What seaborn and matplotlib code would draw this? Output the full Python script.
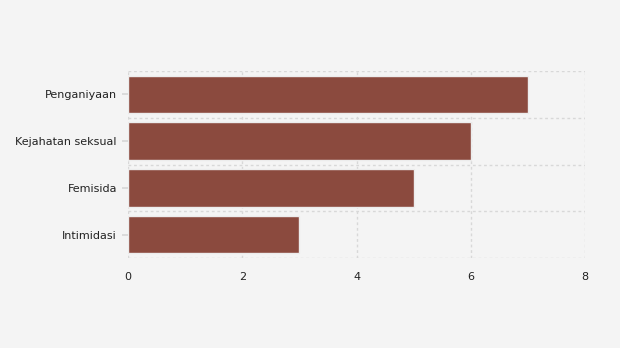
import matplotlib
matplotlib.use("Agg")
import matplotlib.pyplot as plt
import seaborn as sns
import pandas as pd
import numpy as np
from matplotlib.ticker import FixedLocator

categories = ["Penganiyaan", "Kejahatan seksual", "Femisida", "Intimidasi"]
values = [7, 6, 5, 3]
xticks = [0, 2, 4, 6, 8]

df = pd.DataFrame({"kategori": categories, "nilai": values})

sns.set_theme(style="white")
plt.rcParams['font.family'] = ['DejaVu Sans']

fig = plt.figure(figsize=(6.2, 3.48), dpi=100, facecolor="#f4f4f4")
ax = fig.add_axes([128/620, 1-258/348, (585-128)/620, (258-71)/348])
ax.set_facecolor("#f4f4f4")

sns.barplot(data=df, x="nilai", y="kategori", orient="h", color="#8b4a3e",
            saturation=1, width=0.8, edgecolor="#ececec", linewidth=1, ax=ax, zorder=2)

ax.set_xlim(0, 8)
ax.set_ylim(len(categories)-0.5, -0.5)
ax.set_xticks(xticks)
ax.set_xticklabels([str(t) for t in xticks])
ax.yaxis.set_minor_locator(FixedLocator(np.arange(-0.5, len(categories), 1.0)))
ax.grid(axis="x", which="major", color="#d8d8d8", linestyle=(0, (2, 2)), linewidth=1, zorder=0)
ax.grid(axis="y", which="minor", color="#d8d8d8", linestyle=(0, (2, 2)), linewidth=1, zorder=0)
ax.set_axisbelow(True)
for s in ax.spines.values():
    s.set_visible(False)
ax.set_xlabel("")
ax.set_ylabel("")
ax.tick_params(axis="y", which="major", length=4, color="#d8d8d8", labelsize=8, pad=4, labelcolor="#222222", left=True)
ax.tick_params(axis="y", which="minor", length=0)
ax.tick_params(axis="x", length=0, labelsize=8, pad=10, labelcolor="#222222")

fig.savefig("out.png", dpi=100, facecolor="#f4f4f4")
